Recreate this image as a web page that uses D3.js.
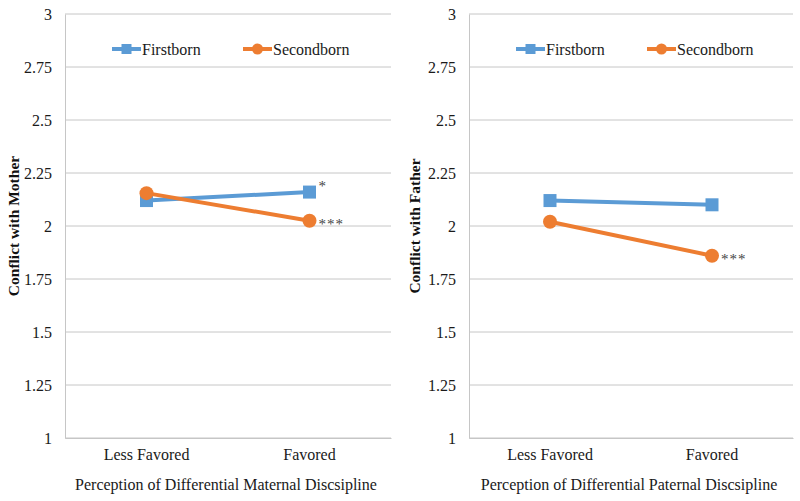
<!DOCTYPE html>
<html><head><meta charset="utf-8">
<script src="https://cdn.jsdelivr.net/npm/d3@7"></script>
<style>body{margin:0;background:#fff;} svg{display:block;} text{font-family:'Liberation Serif','Times New Roman',serif;}</style>
</head><body>
<svg id="c" width="800" height="501"></svg>
<script>
const categories = ["Less Favored", "Favored"];
const seriesNames = ["Firstborn", "Secondborn"];
const yTicks = [1, 1.25, 1.5, 1.75, 2, 2.25, 2.5, 2.75, 3];
const motherFirstborn = [2.12, 2.16];
const motherSecondborn = [2.155, 2.025];
const fatherFirstborn = [2.12, 2.10];
const fatherSecondborn = [2.02, 1.86];
const motherStars = ["*", "***"];   // annotations at Favored point: Firstborn, Secondborn
const fatherStars = ["", "***"];
const panels = [
  {yTitle: "Conflict with Mother", xTitle: "Perception of Differential Maternal Discsipline", fb: motherFirstborn, sb: motherSecondborn, stars: motherStars, left: 65, right: 391, titleX: 19},
  {yTitle: "Conflict with Father", xTitle: "Perception of Differential Paternal Discsipline", fb: fatherFirstborn, sb: fatherSecondborn, stars: fatherStars, left: 469, right: 793, titleX: 420}
];
const colors = ["#5B9BD5", "#ED7D31"];
const font = "'Liberation Serif', 'Times New Roman', serif";
const svg = d3.select("#c");
const plotTop = 14, plotBottom = 438;

panels.forEach(p => {
  const g = svg.append("g");
  const x = d3.scaleBand().domain(categories).range([p.left, p.right]);
  const y = d3.scaleLinear().domain([1, 3]).range([plotBottom, plotTop]);
  // gridlines
  g.selectAll("line.grid").data(yTicks).enter().append("line")
    .attr("x1", p.left).attr("x2", p.right)
    .attr("y1", d => y(d)).attr("y2", d => y(d))
    .attr("stroke", "#c6c6c6").attr("stroke-width", 1);
  // y axis
  const ya = g.append("g").attr("transform", `translate(${p.left},0)`)
    .call(d3.axisLeft(y).tickValues(yTicks).tickSize(0).tickPadding(13).tickFormat(d => String(d)));
  ya.select(".domain").attr("stroke", "#c6c6c6");
  ya.selectAll("text").style("font-family", font).style("font-size", "16px").attr("fill", "#1a1a1a");
  // x axis
  const xa = g.append("g").attr("transform", `translate(0,${plotBottom})`)
    .call(d3.axisBottom(x).tickSize(0).tickPadding(11));
  xa.select(".domain").attr("stroke", "#c6c6c6");
  xa.selectAll("text").style("font-family", font).style("font-size", "16px").attr("fill", "#1a1a1a");
  // titles
  g.append("text").attr("x", (p.left + p.right) / 2 - 2).attr("y", 490)
    .attr("text-anchor", "middle").style("font-family", font).style("font-size", "16px").attr("fill", "#1a1a1a").text(p.xTitle);
  g.append("text").attr("transform", `translate(${p.titleX},${(plotTop + plotBottom) / 2}) rotate(-90)`)
    .attr("text-anchor", "middle").style("font-family", font).style("font-size", "15.5px").attr("font-weight", "bold").attr("fill", "#111").text(p.yTitle);
  // lines
  const cx = d => x(d) + x.bandwidth() / 2;
  const line = d3.line().x((d, i) => cx(categories[i])).y(d => y(d));
  [p.fb, p.sb].forEach((vals, si) => {
    g.append("path").datum(vals).attr("d", line).attr("fill", "none")
      .attr("stroke", colors[si]).attr("stroke-width", 4);
  });
  // markers
  g.selectAll("rect.m").data(p.fb).enter().append("rect")
    .attr("x", (d, i) => cx(categories[i]) - 6.5).attr("y", d => y(d) - 6.5)
    .attr("width", 13).attr("height", 13).attr("fill", colors[0]);
  g.selectAll("circle.m").data(p.sb).enter().append("circle")
    .attr("cx", (d, i) => cx(categories[i])).attr("cy", d => y(d)).attr("r", 7).attr("fill", colors[1]);
  // stars
  [p.fb, p.sb].forEach((vals, si) => {
    const s = p.stars[si];
    if (!s) return;
    g.append("text").attr("x", cx(categories[1]) + 9).attr("y", y(vals[1]) + (s === "*" ? -1 : 8))
      .style("font-family", font).style("font-size", "15px").attr("fill", "#444").attr("letter-spacing", 1).text(s);
  });
  // legend
  const lx = p.left + 47;
  const ly = 49;
  const leg = [{name: seriesNames[0], x: lx}, {name: seriesNames[1], x: lx + 131}];
  leg.forEach((L, si) => {
    g.append("line").attr("x1", L.x).attr("x2", L.x + 29).attr("y1", ly).attr("y2", ly)
      .attr("stroke", colors[si]).attr("stroke-width", 4);
    if (si === 0) g.append("rect").attr("x", L.x + 14.5 - 5).attr("y", ly - 5).attr("width", 10).attr("height", 10).attr("fill", colors[0]);
    else g.append("circle").attr("cx", L.x + 14.5).attr("cy", ly).attr("r", 5.5).attr("fill", colors[1]);
    g.append("text").attr("x", L.x + 30).attr("y", ly + 5.5).style("font-family", font).style("font-size", "16px").attr("fill", "#1a1a1a").text(L.name);
  });
});
</script>
</body></html>
